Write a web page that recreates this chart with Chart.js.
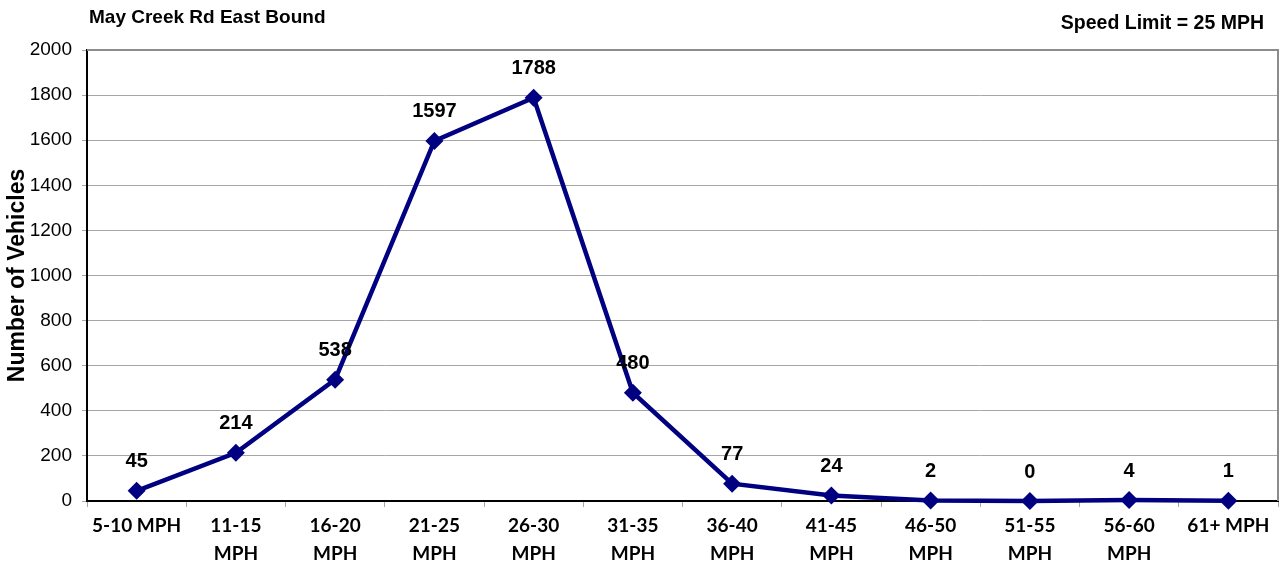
<!DOCTYPE html>
<html>
<head>
<meta charset="utf-8">
<script src="https://cdn.jsdelivr.net/npm/chart.js@4"></script>
<style>
  html, body { margin: 0; padding: 0; background: #fff; }
  #wrap { position: relative; width: 1279px; height: 569px; }
  .head { position: absolute; font: bold 19px "Liberation Sans", Arial, sans-serif; line-height: 19px; color: #000; }
  #title { left: 89px; top: 7px; }
  #limit { right: 15px; top: 13px; font-size: 19.5px; }
</style>
</head>
<body>
<div id="wrap">
  <canvas id="myChart" width="1279" height="569"></canvas>
  <div class="head" id="title">May Creek Rd East Bound</div>
  <div class="head" id="limit">Speed Limit = 25 MPH</div>
</div>
<script>
const speedBins = ['5-10 MPH', ['11-15', 'MPH'], ['16-20', 'MPH'], ['21-25', 'MPH'], ['26-30', 'MPH'],
  ['31-35', 'MPH'], ['36-40', 'MPH'], ['41-45', 'MPH'], ['46-50', 'MPH'], ['51-55', 'MPH'], ['56-60', 'MPH'], '61+ MPH']
const vehicleCounts = [45, 214, 538, 1597, 1788, 480, 77, 24, 2, 0, 4, 1]
const yTicks = [0, 200, 400, 600, 800, 1000, 1200, 1400, 1600, 1800, 2000]

// value labels above each point
const pointLabels = {
  id: 'pointLabels',
  afterDatasetsDraw(chart) {
    const ctx = chart.ctx
    const meta = chart.getDatasetMeta(0)
    ctx.save()
    ctx.font = 'bold 20px "Liberation Sans", Arial, sans-serif'
    ctx.fillStyle = '#000'
    ctx.textAlign = 'center'
    ctx.textBaseline = 'middle'
    meta.data.forEach((pt, i) => {
      ctx.fillText(String(vehicleCounts[i]), pt.x, pt.y - 29)
    })
    ctx.restore()
  }
}

// gray frame on top and right of plot area
const plotFrame = {
  id: 'plotFrame',
  beforeDatasetsDraw(chart) {
    const {ctx, chartArea: a} = chart
    ctx.save()
    ctx.strokeStyle = '#8c8c8c'
    ctx.lineWidth = 2
    ctx.beginPath()
    ctx.moveTo(a.left, a.top)
    ctx.lineTo(a.right, a.top)
    ctx.lineTo(a.right, a.bottom)
    ctx.stroke()
    ctx.restore()
  }
}

const config = {
  type: 'line',
  data: {
    labels: speedBins,
    datasets: [{
      data: vehicleCounts,
      borderColor: '#000080',
      backgroundColor: '#000080',
      borderWidth: 4.5,
      pointStyle: 'rectRot',
      pointRadius: 9,
      pointBorderWidth: 0,
      tension: 0,
      clip: false
    }]
  },
  options: {
    responsive: false,
    animation: false,
    layout: { autoPadding: false, padding: { top: 50, right: 1, left: 0, bottom: 0 } },
    scales: {
      y: {
        min: 0,
        max: 2000,
        afterFit: s => { s.width = 87; s.paddingTop = 0; s.paddingBottom = 0 },
        afterBuildTicks: s => { s.ticks = yTicks.map(v => ({ value: v })) },
        grid: { color: '#a6a6a6', lineWidth: 1, tickLength: 5, tickColor: '#a6a6a6' },
        border: { color: '#000', width: 2 },
        ticks: {
          color: '#000',
          padding: 10,
          callback: v => String(v),
          font: { family: '"Liberation Sans", Arial, sans-serif', size: 19 }
        },
        title: {
          display: true,
          text: 'Number of Vehicles',
          color: '#000',
          padding: { top: 4, bottom: 0 },
          font: { family: '"Liberation Sans", Arial, sans-serif', size: 23, weight: 'bold' }
        }
      },
      x: {
        offset: true,
        afterFit: s => { s.height = 68; s.paddingLeft = 0; s.paddingRight = 0 },
        grid: { offset: true, drawOnChartArea: false, tickLength: 6, tickColor: '#a6a6a6' },
        border: { color: '#000', width: 2 },
        ticks: {
          color: '#000',
          padding: 5,
          maxRotation: 0,
          autoSkip: false,
          font: { family: 'Lato, sans-serif', size: 19, weight: 'bold', lineHeight: 1.47 }
        }
      }
    },
    plugins: {
      legend: { display: false },
      tooltip: { enabled: false }
    }
  },
  plugins: [plotFrame, pointLabels]
}

const myChart = new Chart(document.getElementById('myChart'), config)
</script>
</body>
</html>
